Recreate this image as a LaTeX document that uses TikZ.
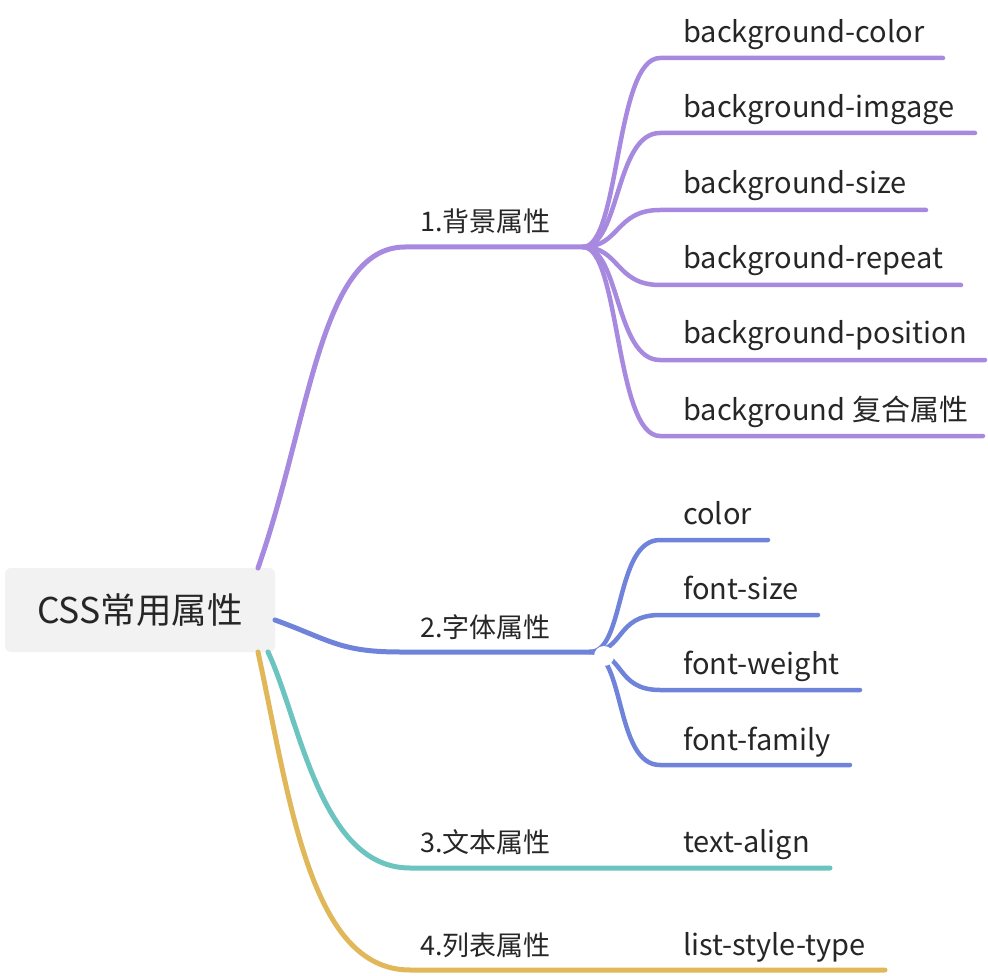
\documentclass[tikz,border=0pt]{standalone}
\usepackage{fontspec}
\setmainfont{Noto Sans CJK SC}
\begin{document}
\begin{tikzpicture}[x=1pt,y=-1pt,
  br/.style={line width=5pt,line cap=round},
  lf/.style={line width=4.5pt,line cap=round},
  lab/.style={anchor=base west,inner sep=0pt,text=black!85,font=\fontsize{27}{30}\selectfont},
  leaf/.style={lab,font=\fontsize{29}{32}\selectfont},
]
\definecolor{cpur}{HTML}{A78AE0}
\definecolor{cblu}{HTML}{7083DB}
\definecolor{ctea}{HTML}{6CC4C0}
\definecolor{cgol}{HTML}{E0B85A}
\useasboundingbox (0,0) rectangle (988,976);

% root
\node[fill=black!5,rounded corners=6pt,minimum width=270pt,minimum height=84pt,inner sep=0pt,
  text=black!85,font=\fontsize{35.5}{40}\selectfont] (root) at (140,610) {CSS常用属性};

% anchor points
\coordinate (r1) at (258,568);
\coordinate (r2) at (275,620);
\coordinate (r3) at (268,652);
\coordinate (r4) at (258,652);
\coordinate (j1) at (583,247);
\coordinate (j2) at (590,652);

% branch 1
\draw[br,cpur] (r1) .. controls (310,420) and (320,247) .. (405,247) -- (j1);
\foreach \y/\e in {58/943,133/975,210/926,285/961,360/985,436/983}{
  \draw[lf,cpur] (j1) .. controls (620,247) and (615,\y) .. (660,\y) -- (\e,\y);
}
% branch 2
\draw[br,cblu] (r2) .. controls (330,640) and (340,652) .. (400,652) -- (j2);
\foreach \y/\e in {540/768,615/818,690/860,765/850}{
  \draw[lf,cblu] (j2) .. controls (625,652) and (615,\y) .. (660,\y) -- (\e,\y);
}
\fill[white] (604,656) circle (10pt);
% branch 3, 4
\draw[br,ctea] (r3) .. controls (300,720) and (320,868) .. (410,868) -- (830,868);
\draw[br,cgol] (r4) .. controls (290,800) and (310,970) .. (410,970) -- (885,970);

% labels
\node[lab] (b1) at (420,232) {1.背景属性};
\node[lab] (b2) at (420,637) {2.字体属性};
\node[lab] (b3) at (420,852) {3.文本属性};
\node[lab] (b4) at (420,955) {4.列表属性};

\node[leaf] (l11) at (683,43) {background-color};
\node[leaf] (l12) at (683,118) {background-imgage};
\node[leaf] (l13) at (683,194) {background-size};
\node[leaf] (l14) at (683,269) {background-repeat};
\node[leaf] (l15) at (683,344) {background-position};
\node[leaf] (l16) at (683,420) {background 复合属性};

\node[leaf] (l21) at (683,524) {color};
\node[leaf] (l22) at (683,599) {font-size};
\node[leaf] (l23) at (683,674) {font-weight};
\node[leaf] (l24) at (683,750) {font-family};

\node[leaf] (l31) at (683,852) {text-align};
\node[leaf] (l41) at (683,955) {list-style-type};
\end{tikzpicture}
\end{document}
